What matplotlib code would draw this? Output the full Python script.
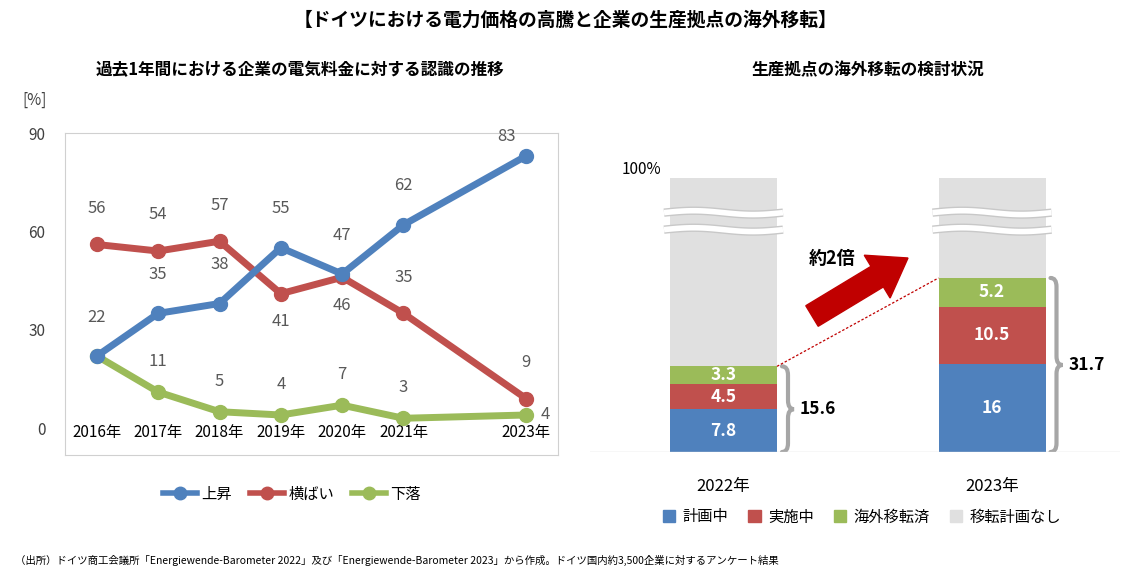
import numpy as np
import matplotlib
matplotlib.use('Agg')
import matplotlib.pyplot as plt
from matplotlib.path import Path
from matplotlib.patches import PathPatch, FancyArrow
from matplotlib.lines import Line2D
from matplotlib.patches import Patch

plt.rcParams['font.family'] = ['Noto Sans CJK JP', 'DejaVu Sans']

# ---- data ----
years = ['2016年', '2017年', '2018年', '2019年', '2020年', '2021年', '', '2023年']
xpos = [0, 1, 2, 3, 4, 5, 7]
up = [22, 35, 38, 55, 47, 62, 83]
flat = [56, 54, 57, 41, 46, 35, 9]
down = [22, 11, 5, 4, 7, 3, 4]
line_names = ['上昇', '横ばい', '下落']

bar_years = ['2022年', '2023年']
planned = [7.8, 16]
doing = [4.5, 10.5]
done = [3.3, 5.2]
totals = [15.6, 31.7]
seg_names = ['計画中', '実施中', '海外移転済', '移転計画なし']

BLUE, RED, GREEN, GRAY = '#4F81BD', '#C0504D', '#9BBB59', '#E0E0E0'
LBL = '#595959'

W, H = 1133, 570
fig = plt.figure(figsize=(W / 100, H / 100), dpi=100)

def rect(l, t, r, b):
    return [l / W, 1 - b / H, (r - l) / W, (b - t) / H]

fig.text(566 / W, 1 - 20 / H, '【ドイツにおける電力価格の高騰と企業の生産拠点の海外移転】',
         ha='center', va='center', fontsize=13.5, fontweight='bold')
fig.text(300 / W, 1 - 70 / H, '過去1年間における企業の電気料金に対する認識の推移',
         ha='center', va='center', fontsize=12, fontweight='bold')
fig.text(868 / W, 1 - 70 / H, '生産拠点の海外移転の検討状況',
         ha='center', va='center', fontsize=12, fontweight='bold')
fig.text(15 / W, 1 - 560 / H,
         '（出所）ドイツ商工会議所「Energiewende-Barometer 2022」及び「Energiewende-Barometer 2023」から作成。ドイツ国内約3,500企業に対するアンケート結果',
         ha='left', va='center', fontsize=7.5)

# ---- left line chart ----
ax = fig.add_axes(rect(65, 133, 558, 455))
ax.set_xlim(-0.52, 7.52)
ax.set_ylim(-8.2, 90)
for s in ax.spines.values():
    s.set_color('#D0D0D0')
ax.set_yticks([0, 30, 60, 90])
ax.set_xticks(range(8))
ax.set_xticklabels(years, fontsize=9.5)
ax.tick_params(length=0, labelsize=11)
ax.tick_params(axis='y', pad=14, colors='#404040')
ax.tick_params(axis='x', pad=-22)
fig.text(22 / W, 1 - 100 / H, '[%]', fontsize=11, va='center', color='#404040')

for vals, col in [(down, GREEN), (flat, RED), (up, BLUE)]:
    ax.plot(xpos, vals, color=col, lw=5, marker='o', ms=10, solid_capstyle='round')

def lab(x, y, dy, txt, dx=0):
    ax.annotate(txt, (x, y), xytext=(dx, dy), textcoords='offset points',
                ha='center', va='center', fontsize=12, color=LBL)

for i, (x, v) in enumerate(zip(xpos, up)):
    if i == 6:
        lab(x, v, 14, str(v), dx=-14)
    else:
        lab(x, v, 28, str(v))
for i, (x, v) in enumerate(zip(xpos, flat)):
    lab(x, v, -20 if i in (3, 4) else 26, str(v))
for i, (x, v) in enumerate(zip(xpos, down)):
    if i == 0:
        continue
    if i == 6:
        lab(x, v, 0, str(v), dx=14)
    else:
        lab(x, v, 22, str(v))

handles = [Line2D([], [], color=c, lw=4, marker='o', ms=9) for c in (BLUE, RED, GREEN)]
fig.legend(handles, line_names, loc='center', bbox_to_anchor=(292 / W, 1 - 494 / H),
           ncol=3, frameon=False, fontsize=11, handlelength=2.2, columnspacing=1.2, handletextpad=0.3)

# ---- right stacked bars ----
ax2 = fig.add_axes(rect(590, 140, 1120, 452))
ax2.set_xlim(590, 1120)
ax2.set_ylim(0, 312 / 5.49)
ax2.axis('off')
ax2.axhline(0, color='#D9D9D9', lw=1)
cx = [723.5, 992]
bw = 107
top = 49.9
ax2.bar(cx, planned, bw, color=BLUE)
ax2.bar(cx, doing, bw, bottom=planned, color=RED)
b2 = np.add(planned, doing)
ax2.bar(cx, done, bw, bottom=b2, color=GREEN)
b3 = b2 + np.array(done)
ax2.bar(cx, top - b3, bw, bottom=b3, color=GRAY)

for i in range(2):
    for bot, v in [(0, planned[i]), (planned[i], doing[i]), (b2[i], done[i])]:
        ax2.text(cx[i], bot + v / 2, f'{v:g}', ha='center', va='center',
                 color='white', fontsize=12.5, fontweight='bold')
    ax2.text(cx[i], -6.3, bar_years[i], ha='center', va='center', fontsize=12)
    # break marks
    xs = np.linspace(cx[i] - bw / 2 - 6, cx[i] + bw / 2 + 6, 60)
    for yb in (43.6, 40.5):
        ys = yb + 0.35 * np.sin((xs - xs[0]) / (xs[-1] - xs[0]) * 2 * np.pi)
        ax2.plot(xs, ys, color='#C8C8C8', lw=6, solid_capstyle='butt')
        ax2.plot(xs, ys, color='white', lw=4, solid_capstyle='butt')

ax2.text(622, 51.5, '100%', fontsize=11, va='center')

# dashed connector
ax2.plot([cx[0] + bw / 2, cx[1] - bw / 2], [b3[0], b3[1]], color='#C00000', lw=0.9, ls=(0, (2, 1.5)))

# braces
def brace(x0, y0, y1, w=12, r=1.6):
    ym = (y0 + y1) / 2
    xm = x0 + w / 2
    verts = [(x0, y1), (xm, y1), (xm, y1 - r), (xm, ym + r), (xm, ym), (x0 + w, ym),
             (xm, ym), (xm, ym - r), (xm, y0 + r), (xm, y0), (x0, y0)]
    codes = [Path.MOVETO, Path.CURVE3, Path.CURVE3, Path.LINETO, Path.CURVE3, Path.CURVE3,
             Path.CURVE3, Path.CURVE3, Path.LINETO, Path.CURVE3, Path.CURVE3]
    ax2.add_patch(PathPatch(Path(verts, codes), fc='none', ec='#A6A6A6', lw=3, capstyle='round'))
    return x0 + w, ym

for i in range(2):
    xe, ym = brace(cx[i] + bw / 2 + 5, 0, totals[i])
    ax2.text(xe + 6, ym, f'{totals[i]:g}', ha='left', va='center', fontsize=12.5, fontweight='bold')

# overlay in pixel coordinates for the big arrow
ov = fig.add_axes([0, 0, 1, 1], zorder=5)
ov.set_xlim(0, W)
ov.set_ylim(H, 0)
ov.axis('off')
ov.add_patch(FancyArrow(812, 316, 96, -58, width=24, head_width=50, head_length=36,
                        length_includes_head=True, color='#C00000'))
ov.text(832, 258, '約2倍', ha='center', va='center', fontsize=13, fontweight='bold')

leg_h = [Patch(color=c) for c in (BLUE, RED, GREEN, GRAY)]
fig.legend(leg_h, seg_names, loc='center', bbox_to_anchor=(862 / W, 1 - 517 / H), ncol=4,
           frameon=False, fontsize=11, handlelength=0.8, handleheight=0.8,
           columnspacing=1.3, handletextpad=0.5)

fig.savefig('out.png', dpi=100)
